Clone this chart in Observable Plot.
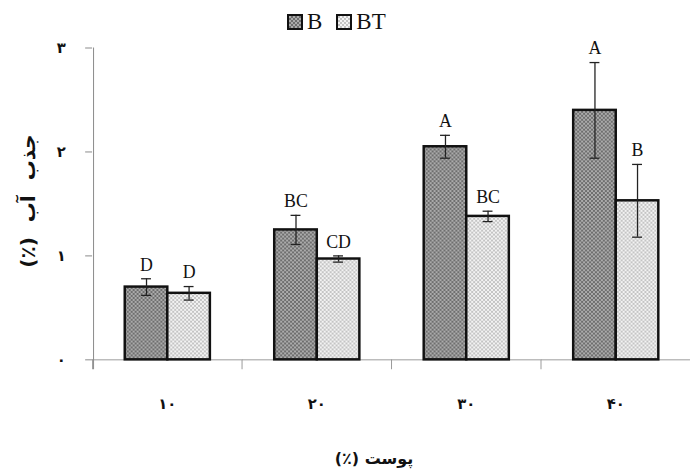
<!DOCTYPE html>
<html>
<head>
<meta charset="utf-8">
<script src="https://cdn.jsdelivr.net/npm/d3@7"></script>
<script src="https://cdn.jsdelivr.net/npm/@observablehq/plot@0.6"></script>
<style>
  html, body { margin: 0; padding: 0; background: #fff; overflow: hidden; }
  #wrap { position: relative; width: 690px; height: 473px; overflow: hidden; }
  #chart { position: absolute; left: 0; top: 0; }
  .legend { position: absolute; left: 287px; top: 9px; font-family: "Liberation Serif", serif; font-size: 23px; color: #111; display: flex; align-items: center; direction: ltr; }
  .legend .sw { display: inline-block; width: 12px; height: 12px; border: 2px solid #111; margin-right: 4px; }
  .legend .item { display: flex; align-items: center; margin-right: 14px; }
  .ytitle { position: absolute; left: 28px; top: 201px; transform: translate(-50%, -50%) rotate(-90deg); font-family: "DejaVu Sans", sans-serif; font-weight: bold; font-size: 20px; word-spacing: 8px; white-space: nowrap; color: #111; }
  .xtitle { position: absolute; left: 374px; top: 458px; transform: translate(-50%, -50%); font-family: "DejaVu Sans", sans-serif; font-weight: bold; font-size: 16px; white-space: nowrap; color: #111; }
</style>
</head>
<body>
<svg width="0" height="0" style="position:absolute">
  <defs>
    <pattern id="pB" width="4" height="4" patternUnits="userSpaceOnUse">
      <rect width="4" height="4" fill="#6e6e6e"/>
      <rect width="2" height="2" fill="#ababab"/>
      <rect x="2" y="2" width="2" height="2" fill="#ababab"/>
    </pattern>
    <pattern id="pBT" width="4" height="4" patternUnits="userSpaceOnUse">
      <rect width="4" height="4" fill="#f3f3f3"/>
      <rect width="2" height="2" fill="#c4c4c4"/>
      <rect x="2" y="2" width="2" height="2" fill="#c4c4c4"/>
    </pattern>
  </defs>
</svg>
<div id="wrap">
  <div id="chart"></div>
  <div class="legend">
    <span class="item"><svg class="sw" width="12" height="12"><rect width="12" height="12" fill="url(#pB)"/></svg>B</span>
    <span class="item"><svg class="sw" width="12" height="12"><rect width="12" height="12" fill="url(#pBT)"/></svg>BT</span>
  </div>
  <div class="ytitle" dir="rtl">جذب آب (٪)</div>
  <div class="xtitle" dir="rtl">پوست (٪)</div>
</div>
<script>
const categories = ["10", "20", "30", "40"];
const categoryLabels = ["۱۰", "۲۰", "۳۰", "۴۰"];
const seriesNames = ["B", "BT"];
const valuesB = [0.70, 1.25, 2.05, 2.40];
const valuesBT = [0.64, 0.97, 1.38, 1.53];
const errorsB = [0.08, 0.14, 0.11, 0.46];
const errorsBT = [0.065, 0.03, 0.05, 0.35];
const lettersB = ["D", "BC", "A", "A"];
const lettersBT = ["D", "CD", "BC", "B"];
const yTicks = [0, 1, 2, 3];
const yTickLabels = ["۰", "۱", "۲", "۳"];

const data = [];
categories.forEach((c, i) => {
  data.push({cat: c, series: "B", value: valuesB[i], err: errorsB[i], letter: lettersB[i]});
  data.push({cat: c, series: "BT", value: valuesBT[i], err: errorsBT[i], letter: lettersBT[i]});
});
const dataB = data.filter(d => d.series === "B");
const dataBT = data.filter(d => d.series === "BT");

const chart = Plot.plot({
  width: 697,
  height: 473,
  marginLeft: 93,
  marginRight: 0,
  marginTop: 48,
  marginBottom: 110,
  style: {background: "transparent", overflow: "visible"},
  fx: {domain: categories, padding: 0, axis: null, label: null},
  x: {domain: seriesNames, paddingInner: 0, paddingOuter: 0.716, axis: null, label: null},
  y: {domain: [0, 3], axis: null, label: null},
  marks: [
    Plot.ruleY([0], {stroke: "#9a9a9a", strokeWidth: 1}),
    Plot.ruleX([{cat: "10"}], {fx: "cat", x: () => "B", dx: -53.5, stroke: "#8a8a8a", strokeWidth: 1, insetBottom: -10}),
    Plot.axisFx({anchor: "bottom", tickSize: 10, dx: -75.5, tickFormat: () => "", stroke: "#9a9a9a", label: null}),
    Plot.axisFx({anchor: "bottom", tickSize: 0, tickPadding: 39, tickFormat: d => categoryLabels[categories.indexOf(d)], fontSize: 15, fontWeight: "bold", fontFamily: "DejaVu Sans", fill: "#111", label: null}),
    Plot.axisY({ticks: yTicks, tickSize: 7, tickPadding: 20, tickFormat: d => yTickLabels[yTicks.indexOf(d)], fontSize: 15, fontWeight: "bold", fontFamily: "DejaVu Sans", stroke: "#8a8a8a", fill: "#111", label: null}),
    Plot.barY(dataB, {fx: "cat", x: "series", y: "value", fill: "url(#pB)", stroke: "#111", strokeWidth: 2.5}),
    Plot.barY(dataBT, {fx: "cat", x: "series", y: "value", fill: "url(#pBT)", stroke: "#111", strokeWidth: 2.5}),
    Plot.ruleX(data, {fx: "cat", x: "series", y1: d => d.value - d.err, y2: d => d.value + d.err, stroke: "#222", strokeWidth: 1.3}),
    Plot.tickY(data, {fx: "cat", x: "series", y: d => d.value + d.err, stroke: "#222", strokeWidth: 1.3, insetLeft: 16.5, insetRight: 16.5}),
    Plot.tickY(data, {fx: "cat", x: "series", y: d => d.value - d.err, stroke: "#222", strokeWidth: 1.3, insetLeft: 16.5, insetRight: 16.5}),
    Plot.text(data, {fx: "cat", x: "series", y: d => d.value + d.err, text: "letter", dy: -14, fontFamily: "Liberation Serif", fontSize: 18, fill: "#111"})
  ]
});
document.getElementById("chart").appendChild(chart);
</script>
</body>
</html>
